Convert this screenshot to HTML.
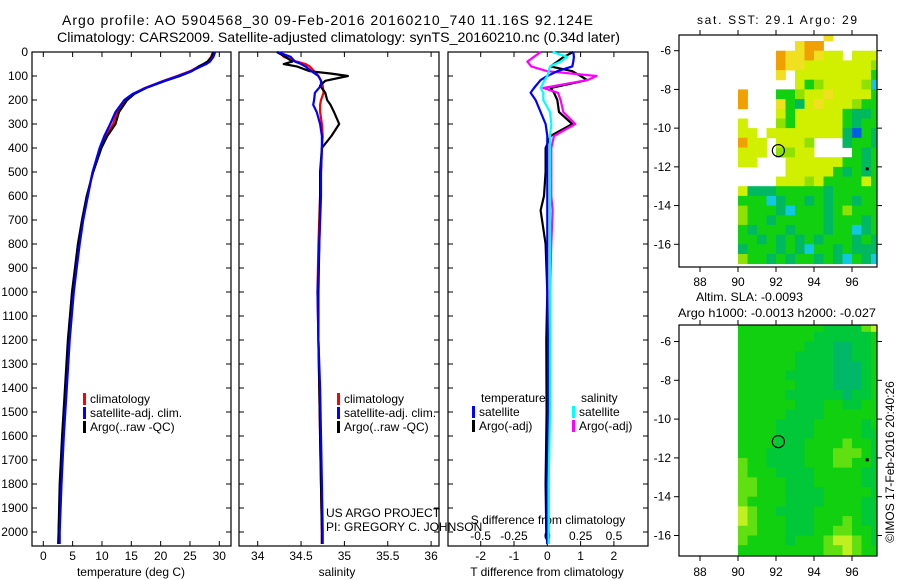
<!DOCTYPE html>
<html><head><meta charset="utf-8"><style>
html,body{margin:0;padding:0;background:#fff;}
svg{display:block;font-family:"Liberation Sans",sans-serif;}
</style></head><body>
<svg id="fig" width="900" height="580" viewBox="0 0 900 580">
<text x="62" y="25" font-size="14" textLength="531" lengthAdjust="spacing">Argo profile: AO 5904568_30 09-Feb-2016 20160210_740 11.16S 92.124E</text>
<text x="57" y="42" font-size="14" textLength="563" lengthAdjust="spacingAndGlyphs">Climatology: CARS2009. Satellite-adjusted climatology: synTS_20160210.nc (0.34d later)</text>
<text x="697" y="24" font-size="12" textLength="160" lengthAdjust="spacing">sat. SST: 29.1  Argo: 29</text>
<text x="696" y="301" font-size="12" textLength="107" lengthAdjust="spacingAndGlyphs">Altim. SLA: -0.0093</text>
<text x="678" y="317" font-size="12" textLength="198" lengthAdjust="spacingAndGlyphs">Argo h1000: -0.0013 h2000: -0.027</text>
<text x="0" y="0" font-size="12" text-anchor="middle" transform="translate(894,462) rotate(-90)">©IMOS 17-Feb-2016 20:40:26</text>
<g id="g"></g>
</svg>
<script>
// ---------- data ----------
const tempDepth = [0,20,40,50,60,80,100,120,150,175,200,250,300,350,400,500,600,700,800,900,1000,1200,1400,1600,1800,2000,2050];
const tempClim  = [28.9,28.6,28.0,27.4,26.6,25.0,22.8,20.5,17.3,15.3,14.0,12.6,11.9,10.7,9.7,8.4,7.5,6.7,6.0,5.5,5.0,4.3,3.8,3.3,2.9,2.6,2.5];
const tempSat   = [29.3,29.0,28.4,27.8,26.9,25.2,23.0,20.6,17.4,15.2,13.8,12.3,11.4,10.4,9.6,8.4,7.6,6.8,6.2,5.7,5.2,4.5,4.0,3.5,3.1,2.8,2.8];
const tempArgo  = [29.0,28.7,28.0,27.3,26.5,25.3,23.3,20.8,17.5,15.5,14.3,12.9,12.3,10.9,9.9,8.5,7.4,6.6,5.9,5.4,4.9,4.2,3.7,3.2,2.8,2.6,2.6];
const salDepth = [0,20,40,50,60,80,90,100,120,140,170,200,220,250,300,350,400,500,600,800,1000,1200,1400,1600,1800,2000,2050];
const salClim  = [34.25,34.30,34.45,34.55,34.60,34.65,34.68,34.70,34.73,34.75,34.76,34.73,34.72,34.72,34.74,34.75,34.74,34.73,34.72,34.70,34.69,34.70,34.71,34.72,34.73,34.74,34.74];
const salSat   = [34.23,34.38,34.43,34.50,34.55,34.62,34.66,34.70,34.73,34.73,34.66,34.65,34.64,34.68,34.72,34.74,34.74,34.73,34.73,34.71,34.69,34.70,34.72,34.73,34.74,34.75,34.75];
const salArgo  = [34.22,34.32,34.40,34.30,34.45,34.60,34.85,35.04,34.78,34.72,34.78,34.80,34.84,34.88,34.94,34.85,34.74,34.72,34.72,34.71,34.70,34.70,34.71,34.72,34.73,34.74,34.74];
const diffDepth = [0,20,40,60,80,100,117,150,170,200,250,300,350,400,500,600,660,800,1000,1200,1500,1800,2000,2050];
const dTsat  = [0.78,0.80,0.78,0.75,0.30,0.00,-0.20,-0.40,-0.50,-0.35,-0.20,-0.05,0.00,0.00,0.00,0.00,0.00,0.00,0.00,0.02,0.02,0.00,0.00,0.00];
const dTargo = [0.78,0.50,0.30,0.10,0.75,1.00,1.20,0.10,0.20,0.30,0.35,0.75,0.10,-0.05,-0.05,-0.10,-0.20,-0.05,0.00,-0.03,-0.02,-0.05,-0.03,0.00];
const dSsat  = [0.04,0.15,0.10,0.02,0.01,0.00,-0.02,-0.05,-0.03,-0.03,0.02,0.03,0.02,0.02,0.02,0.02,0.02,0.02,0.02,0.02,0.02,0.01,0.01,0.01];
const dSargo = [-0.05,-0.10,-0.15,-0.12,0.00,0.37,0.30,-0.03,0.08,0.10,0.12,0.21,0.05,0.03,0.03,0.03,0.04,0.03,0.02,0.02,0.01,0.01,0.01,0.01];
const depthTicks = [0,100,200,300,400,500,600,700,800,900,1000,1100,1200,1300,1400,1500,1600,1700,1800,1900,2000];
const tempTicks = [0,5,10,15,20,25,30];
const salTicks = [34,34.5,35,35.5,36];
const dTTicks = [-2,-1,0,1,2];
const dSTicks = [-0.5,-0.25,0,0.25,0.5];
const lonTicks = [88,90,92,94,96];
const latTicks = [-6,-8,-10,-12,-14,-16];
const argoLon = 92.124, argoLat = -11.16;
const sstGrid = [
".........Y.....",
"......Yoo......",
"....oYYoYyy.yyy",
"....oYYyyyyyyyl",
"....Y.yyyyyyyyg",
"......yglyyyylc",
"o...gglyyYyyyyg",
"o...YgGyYyyylgg",
"....ygyyyyygGGg",
"y...lgyyyyygGgg",
"yy.yyyyyyyyGbgG",
"oyy.yyyl...GggG",
"yyy.llyy....gGg",
"yy...yyyyyyggGg",
".....yyyyygGgGg",
"....yyylyggggyg",
"yGGGgggggGggggg",
"gggcGggGgGggGgg",
"lgggGcgggGglggg",
"lggGgggggGgggGg",
"gGgggGgggGggcGg",
"ggGgGgGgGgggGgG",
"GgggGgGcggGgGGG",
"lggGgGggGgGcgGc"];
const slaGrid = [
"gggggggggGGGGly",
"ggggggggGGGGGGg",
"gggggggGGGTTGGg",
"ggggggGGGGTTGGg",
"ggggggGGGGTTTGg",
"gggggGGGGGTTTGg",
"ggggggGGGGTTTGg",
"gggggGGGGGGTGGg",
"ggggggGGGggGGgg",
"gggggGGGGgggggg",
"ggggGGGGgggggGg",
"ggggGGGGgggggGG",
"ggggGGGgggglggG",
"gggGGGGggglllgG",
"lggGGGGgggllggG",
"lgggGGGGgggggGG",
"llgggGGGgggggGG",
"llgggGGGGgggggG",
"lggggGGGGggggGG",
"ylggGGGGgggggGG",
"ylgggGGGggglgGG",
"llgggGGGggllggG",
"lggggGggglyylgG",
"gggggggggllylgg"];
const sstColors = {o:"#f0a000",Y:"#f0e020",y:"#d0f000",l:"#90e000",g:"#10d010",G:"#00b860",c:"#10c8e0",b:"#0060e0"};
const slaColors = {g:"#10d010",G:"#00c838",T:"#00b868",l:"#60e010",y:"#c0f020"};

// ---------- helpers ----------
const NS="http://www.w3.org/2000/svg";
const root=document.getElementById('g');
function mk(tag,attrs,parent){const e=document.createElementNS(NS,tag);for(const k in attrs)e.setAttribute(k,attrs[k]);(parent||root).appendChild(e);return e;}
const yD = d => 52 + d*0.24;
const xT = t => 43.3 + t*5.867;
const xS = s => 257.7 + (s-34)*86.7;
const xDT = t => 547.3 + t*33.3;
const xDS = s => 547.3 + s*133.3;
const map1 = {x0:679,x1:877,y0:35,y1:267,lon:l=>700+(l-88)*19,lat:a=>50.7+(-6-a)*19.36};
const map2 = {x0:679,x1:877,y0:325,y1:556,lon:l=>700+(l-88)*19,lat:a=>341.5+(-6-a)*19.4};

function axesBox(x0,x1,name){
  const r=mk('rect',{x:x0,y:52,width:x1-x0,height:494,fill:'none',stroke:'#000','stroke-width':1.2});
  
  
  depthTicks.forEach(d=>{
    mk('line',{x1:x0,x2:x0+5,y1:yD(d),y2:yD(d),stroke:'#000'});
    mk('line',{x1:x1,x2:x1-5,y1:yD(d),y2:yD(d),stroke:'#000'});
  });
}
function line(depths,vals,xf,color,name,w){
  const p=depths.map((d,i)=>xf(vals[i]).toFixed(1)+','+yD(d).toFixed(1)).join(' ');
  const e=mk('polyline',{points:p,fill:'none',stroke:color,'stroke-width':w||2.2,'stroke-linejoin':'round'});
  
  
}
function xticks(ticks,xf,x0,x1,name,y,labelY,fmt){
  ticks.forEach(t=>{
    const x=xf(t);
    mk('line',{x1:x,x2:x,y1:546,y2:541,stroke:'#000'});
    mk('line',{x1:x,x2:x,y1:52,y2:57,stroke:'#000'});
    const tx=mk('text',{x:x,y:labelY,'font-size':12,'text-anchor':'middle'});
    tx.textContent=fmt?fmt(t):String(t);
    
    
  });
}
function legend(x,y,items){
  items.forEach((it,i)=>{
    mk('rect',{x:x,y:y+i*14-10,width:3,height:12,fill:it[0]});
    const t=mk('text',{x:x+7,y:y+i*14,'font-size':12});
    t.textContent=it[1];
    
    
  });
}

// ---------- panel 1: temperature ----------
axesBox(32,231,'temperature-panel');
depthTicks.forEach(d=>{
  const t=mk('text',{x:28,y:yD(d)+4,'font-size':12,'text-anchor':'end'});
  t.textContent=d;
  
  
});
xticks(tempTicks,xT,32,231,'temperature-tick-label',546,560);
line(tempDepth,tempClim,xT,'#f00','temperature-climatology-line');
line(tempDepth,tempArgo,xT,'#000','temperature-argo-line');
line(tempDepth,tempSat,xT,'#00f','temperature-satellite-line');
legend(83,403,[['#f00','climatology'],['#00f','satellite-adj. clim.'],['#000','Argo(..raw -QC)']]);
{const t=mk('text',{x:131,y:576,'font-size':12,'text-anchor':'middle'});t.textContent='temperature (deg C)';

}

// ---------- panel 2: salinity ----------
axesBox(239,439,'salinity-panel');
xticks(salTicks,xS,239,439,'salinity-tick-label',546,560);
line(salDepth,salClim,xS,'#f00','salinity-climatology-line');
line(salDepth,salArgo,xS,'#000','salinity-argo-line');
line(salDepth,salSat,xS,'#00f','salinity-satellite-line');
legend(337,403,[['#f00','climatology'],['#00f','satellite-adj. clim.'],['#000','Argo(..raw -QC)']]);
{const t=mk('text',{x:337,y:576,'font-size':12,'text-anchor':'middle'});t.textContent='salinity';

}
{const t=mk('text',{x:326,y:517,'font-size':12});t.textContent='US ARGO PROJECT';


const t2=mk('text',{x:326,y:531,'font-size':12});t2.textContent='PI: GREGORY C. JOHNSON';

}

// ---------- panel 3: differences ----------
axesBox(448,648,'difference-panel');
xticks(dTTicks,xDT,448,648,'t-diff-tick-label',546,560);
dSTicks.forEach(s=>{
  const t=mk('text',{x:xDS(s),y:540,'font-size':12,'text-anchor':'middle'});
  t.textContent=String(s);
  
  
});
{const t=mk('text',{x:548,y:524,'font-size':12,'text-anchor':'middle'});t.textContent='S difference from climatology';

}
line(diffDepth,dTargo,xDT,'#000','t-diff-argo-line');
line(diffDepth,dSargo,xDS,'#f0f','s-diff-argo-line');
line(diffDepth,dTsat,xDT,'#00f','t-diff-satellite-line');
line(diffDepth,dSsat,xDS,'#0ff','s-diff-satellite-line');
{const t=mk('text',{x:481,y:402,'font-size':12});t.textContent='temperature';


const t2=mk('text',{x:581,y:402,'font-size':12});t2.textContent='salinity';

}
legend(472,416,[['#00f','satellite'],['#000','Argo(-adj)']]);
legend(572,416,[['#0ff','satellite'],['#f0f','Argo(-adj)']]);
{const t=mk('text',{x:547,y:576,'font-size':12,'text-anchor':'middle'});t.textContent='T difference from climatology';

}

// ---------- maps ----------
function drawMap(m,grid,colors,name,lonLabelY){
  const cid='clip-'+name;
  const cp=mk('clipPath',{id:cid});
  mk('rect',{x:m.x0,y:m.y0,width:m.x1-m.x0,height:m.y1-m.y0},cp);
  const g=mk('g',{'clip-path':'url(#'+cid+')'});
  
  
  grid.forEach((row,r)=>{
    const latTop=-5-0.5*r, latBot=latTop-0.5;
    for(let c=0;c<row.length;c++){
      const ch=row[c]; if(ch==='.')continue;
      const l0=90+0.5*c;
      const x=m.lon(l0), y=m.lat(latTop);
      mk('rect',{x:x.toFixed(1),y:y.toFixed(1),width:(m.lon(l0+0.5)-x+0.4).toFixed(1),height:(m.lat(latBot)-y+0.4).toFixed(1),fill:colors[ch]},g);
    }
  });
  const b=mk('rect',{x:m.x0,y:m.y0,width:m.x1-m.x0,height:m.y1-m.y0,fill:'none',stroke:'#000','stroke-width':1.2});
  
  
  lonTicks.forEach(l=>{
    const x=m.lon(l);
    mk('line',{x1:x,x2:x,y1:m.y0,y2:m.y0-5,stroke:'#000'});
    mk('line',{x1:x,x2:x,y1:m.y1,y2:m.y1+5,stroke:'#000'});
    const t=mk('text',{x:x,y:lonLabelY,'font-size':12,'text-anchor':'middle'});
    t.textContent=l;
    
    
  });
  latTicks.forEach(a=>{
    const y=m.lat(a);
    mk('line',{x1:m.x0,x2:m.x0-5,y1:y,y2:y,stroke:'#000'});
    mk('line',{x1:m.x1,x2:m.x1+5,y1:y,y2:y,stroke:'#000'});
    const t=mk('text',{x:m.x0-8,y:y+4,'font-size':12,'text-anchor':'end'});
    t.textContent=a;
    
    
  });
  const c=mk('circle',{cx:m.lon(argoLon),cy:m.lat(argoLat),r:6,fill:'none',stroke:'#000','stroke-width':1.2});
  
  
  mk('rect',{x:m.lon(96.8)-1.5,y:m.lat(-12.1)-1.5,width:3,height:3,fill:'#000'});
}
drawMap(map1,sstGrid,sstColors,'sst-map',286);
drawMap(map2,slaGrid,slaColors,'sla-map',576);
</script>
</body></html>
